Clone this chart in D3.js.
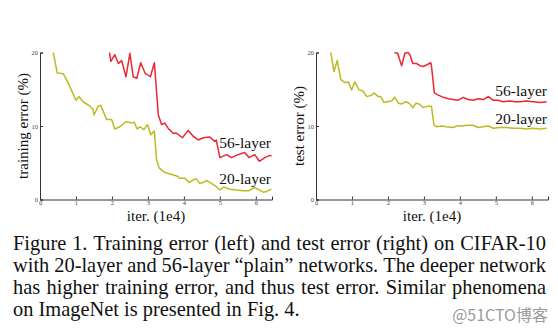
<!DOCTYPE html>
<html><head><meta charset="utf-8">
<script src="https://cdn.jsdelivr.net/npm/d3@7"></script>
<style>
html,body{margin:0;padding:0;background:#fff;}
svg{display:block;}
</style></head>
<body>
<svg id="fig" width="558" height="332"></svg>
<script>
// ---- Data ----
const xTicks = [0,1,2,3,4,5,6];
const yTicks = [0,10,20];

const trainIter20 = [0.37,0.48,0.65,0.79,1.0,1.08,1.2,1.39,1.48,1.5,1.62,1.69,1.85,1.99,2.08,2.22,2.39,2.55,2.62,2.7,2.78,2.89,2.99,3.08,3.18,3.24,3.31,3.43,3.52,3.66,3.8,3.89,4.03,4.15,4.26,4.35,4.44,4.54,4.63,4.77,4.89,5.0,5.11,5.28,5.46,5.65,5.81,5.95,6.06,6.2,6.3,6.43];
const trainErr20  = [20.0,17.2,17.1,15.8,13.5,14.0,13.3,12.7,12.2,11.5,12.7,12.8,10.9,10.9,9.6,9.9,10.6,10.4,10.5,9.6,9.9,9.5,10.2,8.8,9.3,5.4,4.3,3.8,3.6,3.4,3.2,2.9,2.9,2.3,2.7,2.8,2.2,2.3,2.6,2.2,1.8,1.3,1.7,1.4,1.3,1.2,1.2,1.6,1.4,1.0,1.1,1.4];

const trainIter56 = [1.93,1.97,2.08,2.18,2.27,2.39,2.5,2.59,2.69,2.8,2.92,3.07,3.18,3.29,3.38,3.47,3.56,3.7,3.8,3.96,4.12,4.26,4.4,4.54,4.72,4.86,4.9,5.0,5.19,5.32,5.51,5.69,5.81,5.97,6.1,6.25,6.39,6.44];
const trainErr56  = [20.0,18.8,19.7,18.5,18.9,16.7,19.9,16.7,16.5,18.6,17.2,16.7,18.6,11.5,10.2,10.4,9.7,9.0,9.0,8.4,9.4,8.6,8.1,8.4,8.5,7.9,8.1,5.7,6.1,5.7,6.1,6.4,5.7,6.1,5.2,5.7,6.0,5.9];

const testIter20 = [0.41,0.5,0.59,0.69,0.81,0.9,0.99,1.08,1.2,1.3,1.41,1.55,1.61,1.73,1.8,1.89,1.98,2.1,2.19,2.29,2.38,2.5,2.59,2.69,2.78,2.87,2.98,3.12,3.21,3.28,3.37,3.49,3.63,3.81,3.91,4.05,4.19,4.37,4.51,4.65,4.79,4.93,5.11,5.3,5.48,5.67,5.85,6.04,6.22,6.41];
const testErr20  = [20.0,17.4,18.9,16.3,15.9,16.0,14.9,16.0,14.9,14.8,14.0,14.2,14.5,14.0,14.0,13.2,13.3,13.4,13.9,13.1,13.0,13.3,13.1,12.5,13.1,13.0,12.5,12.7,12.7,10.1,9.9,10.0,9.9,9.8,10.0,10.0,10.1,10.1,9.8,9.9,10.0,9.7,9.8,9.8,9.7,9.7,9.6,9.7,9.6,9.7];

const testIter56 = [2.18,2.27,2.38,2.47,2.56,2.61,2.69,2.8,2.89,2.98,3.07,3.19,3.21,3.29,3.4,3.54,3.68,3.81,3.95,4.09,4.23,4.37,4.51,4.65,4.79,4.93,5.06,5.2,5.39,5.53,5.67,5.85,6.04,6.22,6.41];
const testErr56  = [20.0,19.9,18.2,19.9,20.0,19.7,18.5,18.5,18.2,18.1,18.3,18.6,18.2,14.5,14.2,13.9,13.7,13.6,13.5,13.9,13.6,13.5,13.7,13.6,14.0,13.5,13.5,13.3,13.4,13.3,13.3,13.4,13.3,13.2,13.3];

const captionLines = [
  "Figure 1. Training error (left) and test error (right) on CIFAR-10",
  "with 20-layer and 56-layer \u201cplain\u201d networks. The deeper network",
  "has higher training error, and thus test error. Similar phenomena",
  "on ImageNet is presented in Fig. 4."
];
const watermark = "@51CTO\u535a\u5ba2";

// ---- Drawing ----
const svg = d3.select("#fig");
const RED = "#ec2634", OLIVE = "#bcbc22";
const serif = "'Liberation Serif','Times New Roman',serif";

function panel(opts){
  const x = d3.scaleLinear().domain([0,6.45]).range([opts.x0, opts.x0+232]);
  const y = d3.scaleLinear().domain([0,20]).range([199.5, 52.5]);
  const g = svg.append("g");
  const xa = g.append("g").attr("transform","translate(0,199.5)")
    .call(d3.axisBottom(x).tickValues(xTicks).tickSize(-3).tickPadding(1).tickFormat(d3.format("d")));
  const ya = g.append("g").attr("transform",`translate(${opts.x0},0)`)
    .call(d3.axisLeft(y).tickValues(yTicks).tickSize(-3).tickPadding(2).tickFormat(d3.format("d")));
  [xa,ya].forEach(a=>{
    a.select(".domain").attr("stroke","#333").attr("stroke-width",1);
    a.selectAll(".tick line").attr("stroke","#333");
    a.selectAll(".tick text").attr("fill","#444").style("font-size","6.5px").style("font-family",serif);
  });
  const line = d3.line().x(d=>x(d[0])).y(d=>y(d[1]));
  opts.series.forEach(s=>{
    g.append("path").datum(d3.zip(s.xs,s.ys))
      .attr("fill","none").attr("stroke",s.color).attr("stroke-width",1.5)
      .attr("stroke-linejoin","round").attr("d",line);
    g.append("text").attr("x",opts.x0+231).attr("y",s.ly).attr("text-anchor","end")
      .style("font-family",serif).style("font-size","15.5px").attr("fill","#111").text(s.label);
  });
  g.append("text").attr("x",opts.x0+116).attr("y",220.5).attr("text-anchor","middle")
    .style("font-family",serif).style("font-size","15px").attr("fill","#111").text("iter. (1e4)");
  g.append("text").attr("transform",`translate(${opts.x0-11},126) rotate(-90)`)
    .attr("text-anchor","middle").attr("dy","-0.05em")
    .style("font-family",serif).style("font-size","15px").attr("fill","#111").text(opts.ylabel);
}

panel({x0:40, ylabel:"training error (%)", series:[
  {xs:trainIter56, ys:trainErr56, color:RED, label:"56-layer", ly:148.3},
  {xs:trainIter20, ys:trainErr20, color:OLIVE, label:"20-layer", ly:183.5}
]});
panel({x0:316, ylabel:"test error (%)", series:[
  {xs:testIter56, ys:testErr56, color:RED, label:"56-layer", ly:96},
  {xs:testIter20, ys:testErr20, color:OLIVE, label:"20-layer", ly:123.5}
]});

// Caption, justified between left and right margins
const capL = 13, capR = 546, capFS = 20.4;
captionLines.forEach((ln,i)=>{
  const yb = 250 + i*21.9;
  const words = ln.split(" ");
  const justify = i < captionLines.length-1;
  const texts = words.map(w=> svg.append("text").attr("y",yb)
    .style("font-family",serif).style("font-size",capFS+"px").attr("fill","#111").text(w));
  const widths = texts.map(t=>t.node().getComputedTextLength());
  const total = d3.sum(widths);
  const gap = justify ? (capR-capL-total)/(words.length-1) : capFS*0.25;
  let cx = capL;
  texts.forEach((t,k)=>{ t.attr("x",cx); cx += widths[k]+gap; });
});
svg.append("text").attr("x",548).attr("y",321).attr("text-anchor","end")
  .style("font-family","'Noto Sans CJK SC','Noto Sans',sans-serif").style("font-size","16px")
  .attr("fill","#9a9a9a").text(watermark);
</script>
</body></html>
